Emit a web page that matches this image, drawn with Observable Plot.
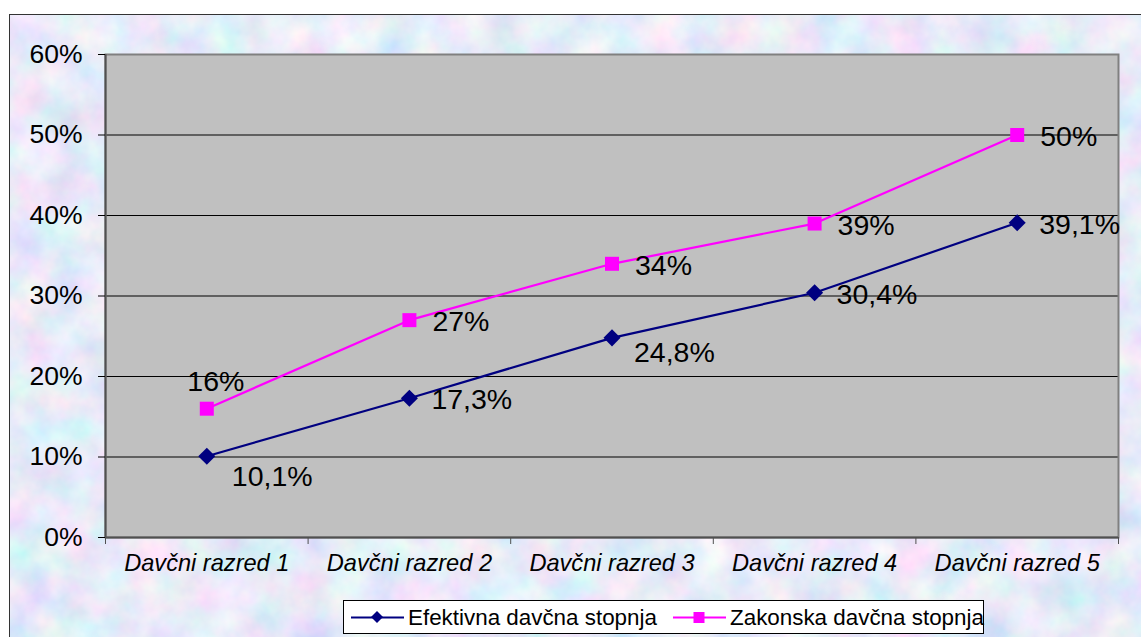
<!DOCTYPE html>
<html><head><meta charset="utf-8">
<script src="https://cdn.jsdelivr.net/npm/d3@7"></script>
<script src="https://cdn.jsdelivr.net/npm/@observablehq/plot@0.6"></script>
<style>
body{margin:0;width:1141px;height:637px;overflow:hidden;background:#fff;font-family:"Liberation Sans",Arial,sans-serif;}
#frame{position:absolute;left:9px;top:14px;width:1140px;height:640px;border:1px solid #333;background-color:#c8d4f0;
background-image:url("data:image/svg+xml,%3Csvg xmlns='http://www.w3.org/2000/svg' width='1140' height='640'%3E%3Cfilter id='n'%3E%3CfeTurbulence type='fractalNoise' baseFrequency='0.025' numOctaves='4' seed='7'/%3E%3CfeColorMatrix values='0.6 0 0 0 0.5  0 0.4 0 0 0.63  0 0 0.18 0 0.85  0 0 0 0 1'/%3E%3C/filter%3E%3Crect width='100%25' height='100%25' filter='url(%23n)'/%3E%3C/svg%3E");}
#chart{position:absolute;left:0;top:0;}
#legend{position:absolute;left:343px;top:600px;width:641px;height:34px;background:#fff;border:1px solid #000;box-sizing:border-box;font-size:22.4px;color:#000;}
.item{position:absolute;top:0;height:33px;display:flex;align-items:center;}
.item svg{display:block;}
.item span{margin-left:4px;white-space:nowrap;}
</style></head>
<body>
<div id="frame"><div id="chart"></div></div>
<div id="legend"></div>
<script>
const categories = ["Davčni razred 1","Davčni razred 2","Davčni razred 3","Davčni razred 4","Davčni razred 5"];
const efektivna = [10.1, 17.3, 24.8, 30.4, 39.1];
const zakonska = [16, 27, 34, 39, 50];
const yTicks = [0, 10, 20, 30, 40, 50, 60];
const seriesNames = ["Efektivna davčna stopnja", "Zakonska davčna stopnja"];

const rows = categories.map((c, i) => ({i, x: i + 0.5, c, e: efektivna[i], z: zakonska[i]}));
const fmt = v => String(v).replace(".", ",") + "%";

const diamond = {draw(ctx, size){ const h = Math.sqrt(size/2); ctx.moveTo(0,-h); ctx.lineTo(h,0); ctx.lineTo(0,h); ctx.lineTo(-h,0); ctx.closePath(); }};
const NAVY = "#000080", MAG = "#ff00ff";
const font = "Liberation Sans, Arial, sans-serif";
const labelOpts = {fontSize: 28.5, fontFamily: font, fill: "#000", textAnchor: "start"};

const chart = Plot.plot({
  width: 1131, height: 575,
  marginLeft: 95, marginTop: 39, marginRight: 23, marginBottom: 53,
  style: {background: "transparent", fontFamily: font, overflow: "visible"},
  x: {type: "linear", domain: [0, 5]},
  y: {domain: [0, 60]},
  marks: [
    Plot.frame({fill: "#c0c0c0"}),
    Plot.ruleY(yTicks, {stroke: "#000", strokeWidth: 1}),
    Plot.frame({stroke: "#808080", strokeWidth: 2}),
    Plot.ruleX([0], {stroke: "#505050", strokeWidth: 2}),
    Plot.ruleY([0], {stroke: "#505050", strokeWidth: 2}),
    Plot.axisY({ticks: yTicks, tickFormat: d => d + "%", tickSize: 7, tickPadding: 16, fontSize: 26.5, fill: "#000", stroke: "#000", label: null}),
    Plot.axisX({ticks: [0,1,2,3,4,5], tickFormat: () => "", tickSize: 7, stroke: "#505050", label: null}),
    Plot.axisX({ticks: rows.map(d => d.x), tickFormat: (d, k) => categories[k], tickSize: 0, tickPadding: 17, fontSize: 23.6, fontStyle: "italic", fill: "#000", label: null}),
    Plot.line(rows, {x: "x", y: "z", stroke: MAG, strokeWidth: 2.2}),
    Plot.line(rows, {x: "x", y: "e", stroke: NAVY, strokeWidth: 2.2}),
    Plot.dot(rows, {x: "x", y: "z", symbol: "square", r: 7.9, fill: MAG, stroke: "none"}),
    Plot.dot(rows, {x: "x", y: "e", symbol: diamond, r: 6.8, fill: NAVY, stroke: "none"}),
    Plot.text(rows.filter(d => d.i === 0), {x: "x", y: "z", text: d => fmt(d.z), ...labelOpts, textAnchor: "middle", dx: 9, dy: -27}),
    Plot.text(rows.filter(d => d.i > 0), {x: "x", y: "z", text: d => fmt(d.z), ...labelOpts, dx: 23, dy: 2}),
    Plot.text(rows.filter(d => d.i === 0), {x: "x", y: "e", text: d => fmt(d.e), ...labelOpts, dx: 25, dy: 21}),
    Plot.text(rows.filter(d => d.i === 2), {x: "x", y: "e", text: d => fmt(d.e), ...labelOpts, dx: 22, dy: 15}),
    Plot.text(rows.filter(d => d.i !== 0 && d.i !== 2), {x: "x", y: "e", text: d => fmt(d.e), ...labelOpts, dx: 22, dy: 2})
  ]
});
document.getElementById("chart").appendChild(chart);

// legend
const legend = document.getElementById("legend");
const items = [
  {name: seriesNames[0], color: NAVY, left: 7, kind: "diamond"},
  {name: seriesNames[1], color: MAG, left: 329, kind: "square"}
];
items.forEach(it => {
  const div = document.createElement("div");
  div.className = "item";
  div.style.left = it.left + "px";
  const marker = it.kind === "diamond"
    ? `<path d="M26,10 L32,16 L26,22 L20,16 Z" fill="${it.color}"/>`
    : `<rect x="20.5" y="11" width="11" height="11" fill="${it.color}"/>`;
  div.innerHTML = `<svg width="53" height="33"><line x1="0" x2="53" y1="16.5" y2="16.5" stroke="${it.color}" stroke-width="2"/>${marker}</svg><span>${it.name}</span>`;
  legend.appendChild(div);
});
</script>
</body></html>
